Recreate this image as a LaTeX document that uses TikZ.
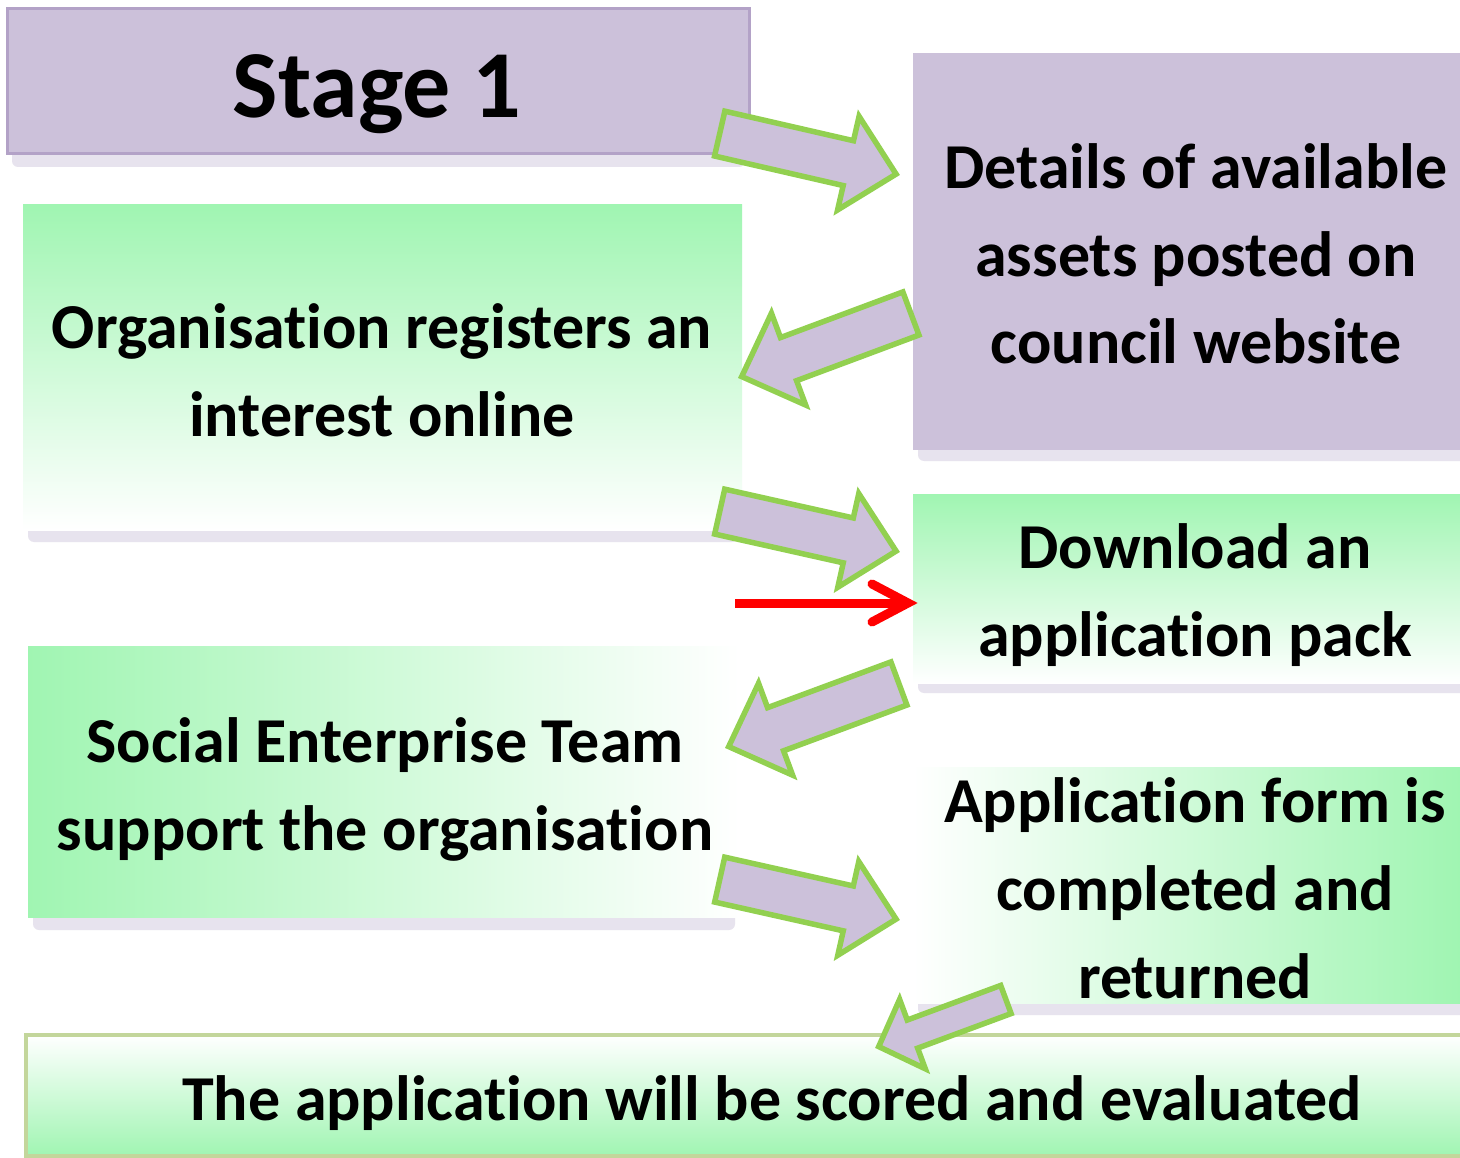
\documentclass[tikz,border=0pt]{standalone}
\usepackage{fontspec}
\setmainfont{Carlito}[Ligatures=NoCommon]
\usetikzlibrary{calc}
\definecolor{lav}{HTML}{CCC1DA}
\definecolor{lavd}{HTML}{B3A2C7}
\definecolor{grn}{HTML}{A0F5B2}
\definecolor{agrn}{HTML}{92D050}
\definecolor{olv}{HTML}{C3D69B}
\definecolor{shd}{HTML}{E7E3EE}
\tikzset{
  box/.style={anchor=north west, inner sep=0pt, outer sep=0pt},
  txt/.style={font=\bfseries\fontsize{64}{88}\selectfont, align=center, anchor=base, inner sep=0pt},
  blk/.style={fill=lav, draw=agrn, line width=5.5pt, line join=miter},
  shadowbar/.style={fill=shd, rounded corners=6pt},
  redline/.style={draw=red, line width=9pt},
}
% #1 tail, #2 tip, #3 shaft half width, #4 head half width, #5 head length
\newcommand\blockarrow[5]{%
  \coordinate (hb) at ($(#2)!#5!(#1)$);
  \draw[blk] ($(#1)!#3!90:(#2)$) -- ($(hb)!#3!-90:(#1)$) -- ($(hb)!#4!-90:(#1)$) -- (#2)
    -- ($(hb)!#4!90:(#1)$) -- ($(hb)!#3!90:(#1)$) -- ($(#1)!#3!-90:(#2)$) -- cycle;
}
\begin{document}
\begin{tikzpicture}[x=1pt,y=-1pt]
\useasboundingbox (0,0) rectangle (1460,1158);
\fill[white] (0,0) rectangle (1460,1158);

% shadows
\fill[shadowbar] (12,148) rectangle (745,167);
\fill[shadowbar] (918,444) rectangle (1466,461);
\fill[shadowbar] (28,524) rectangle (738,542);
\fill[shadowbar] (918,677) rectangle (1466,693);
\fill[shadowbar] (33,911) rectangle (735,930);
\fill[shadowbar] (918,997) rectangle (1466,1015);

% boxes
\node[box, fill=lav, draw=lavd, line width=3pt, minimum width=742pt, minimum height=145pt] (s1) at (7,9) {};
\node[box, fill=lav, minimum width=547pt, minimum height=397pt] (det) at (913,53) {};
\node[box, shade, top color=grn, middle color=grn!40, bottom color=white, minimum width=719pt, minimum height=325pt] (org) at (23,205) {};
\node[box, shade, top color=grn, middle color=grn!35, bottom color=white, minimum width=547pt, minimum height=189pt] (dl) at (913,494) {};
\node[box, shade, left color=grn, middle color=grn!45, right color=white, minimum width=712pt, minimum height=271pt] (soc) at (28,646) {};
\node[box, shade, left color=white, middle color=grn!45, right color=grn, minimum width=547pt, minimum height=236pt] (app) at (913,767) {};
\node[box, shade, top color=white, middle color=grn!45, bottom color=grn, draw=olv, line width=4.5pt, minimum width=1440pt, minimum height=121pt] (eval) at (26,1035) {};

% texts (anchor base = baseline of the last line)
\node[txt, font=\bfseries\fontsize{96}{110}\selectfont] (s1t) at (377,118) {Stage 1};
\node[txt] (dett) at (1196,364) {Details of available\\assets posted on\\council website};
\node[txt] (orgt) at (382,436) {Organisation registers an\\interest online};
\node[txt] (dlt) at (1195,656) {Download an\\application pack};
\node[txt] (soct) at (385,850) {Social Enterprise Team\\support the organisation};
\node[txt] (appt) at (1195,998) {Application form is\\completed and\\returned};
\node[txt] (evalt) at (772,1120) {The application will be scored and evaluated};

% block arrows
\coordinate (a1s) at (719.7,133.6); \coordinate (a1e) at (896.1,174.1);
\coordinate (a2s) at (910.9,313.5); \coordinate (a2e) at (741.7,376.6);
\coordinate (a3s) at (719.7,511.6); \coordinate (a3e) at (896.1,551.1);
\coordinate (a4s) at (898.9,683.5); \coordinate (a4e) at (728.7,746.6);
\coordinate (a5s) at (719.7,879.6); \coordinate (a5e) at (896.1,919.1);
\coordinate (a6s) at (1005.9,999.5); \coordinate (a6e) at (878.7,1046.6);
\blockarrow{a1s}{a1e}{23pt}{48pt}{49pt}
\blockarrow{a2s}{a2e}{23pt}{49pt}{50pt}
\blockarrow{a3s}{a3e}{23pt}{48pt}{49pt}
\blockarrow{a4s}{a4e}{23pt}{49pt}{50pt}
\blockarrow{a5s}{a5e}{23pt}{48pt}{49pt}
\blockarrow{a6s}{a6e}{15pt}{37pt}{36pt}

% red arrow
\coordinate (rs) at (735,603);
\coordinate (rt) at (908,603);
\draw[redline] (rs) -- ($(rt)+(-4,0)$);
\draw[redline, line cap=round, line join=miter] ($(rt)+(-36,-19)$) -- (rt) -- ($(rt)+(-36,19)$);
\end{tikzpicture}
\end{document}
